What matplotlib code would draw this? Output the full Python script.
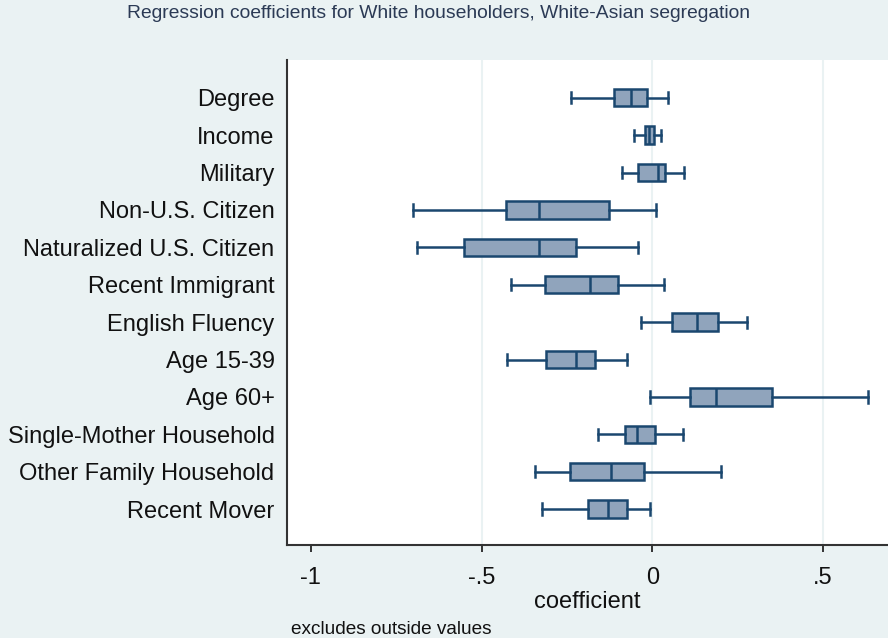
import matplotlib
matplotlib.use("Agg")
import matplotlib.pyplot as plt

plt.rcParams['font.family'] = ['Liberation Sans', 'DejaVu Sans']

categories = [
    "Degree", "Income", "Military", "Non-U.S. Citizen",
    "Naturalized U.S. Citizen", "Recent Immigrant", "English Fluency",
    "Age 15-39", "Age 60+", "Single-Mother Household",
    "Other Family Household", "Recent Mover",
]
whisker_low = [-0.239, -0.054, -0.089, -0.702, -0.688, -0.413, -0.032,
               -0.426, -0.006, -0.158, -0.344, -0.323]
q1 = [-0.111, -0.021, -0.042, -0.430, -0.552, -0.313, 0.058,
      -0.311, 0.110, -0.079, -0.242, -0.188]
median = [-0.062, -0.009, 0.017, -0.331, -0.332, -0.183, 0.132,
          -0.223, 0.187, -0.046, -0.121, -0.130]
q3 = [-0.017, 0.006, 0.037, -0.126, -0.224, -0.100, 0.191,
      -0.167, 0.349, 0.009, -0.024, -0.074]
whisker_high = [0.047, 0.026, 0.092, 0.010, -0.043, 0.033, 0.278,
                -0.074, 0.630, 0.090, 0.201, -0.008]

x_ticks = [-1, -0.5, 0, 0.5]
x_tick_labels = ["-1", "-.5", "0", ".5"]

bg = "#EAF2F3"
edge = "#1A476F"
fill = "#90A4BC"

fig = plt.figure(figsize=(8.88, 6.38), dpi=100, facecolor=bg)
ax = fig.add_axes([287 / 888, 1 - 545 / 638, 1 - 287 / 888, (545 - 60) / 638])
ax.set_facecolor("white")

stats = []
for i, name in enumerate(categories):
    stats.append(dict(label=name, whislo=whisker_low[i], q1=q1[i],
                      med=median[i], q3=q3[i], whishi=whisker_high[i],
                      fliers=[]))

positions = list(range(len(categories)))
lw = 1.8
ax.bxp(stats, positions=positions, orientation="horizontal", widths=0.465,
       patch_artist=True, showfliers=False, capwidths=0.3,
       boxprops=dict(facecolor=fill, edgecolor=edge, linewidth=lw),
       medianprops=dict(color=edge, linewidth=lw),
       whiskerprops=dict(color=edge, linewidth=lw),
       capprops=dict(color=edge, linewidth=lw))

ax.set_ylim(11.96, -1.01)
ax.set_xlim(-1.07, 0.69)

for gx in [-0.5, 0, 0.5]:
    ax.axvline(gx, color=bg, linewidth=1.5, zorder=0)

ax.set_xticks(x_ticks)
ax.set_xticklabels(x_tick_labels)
ax.set_yticks(positions)
ax.set_yticklabels(categories)

ax.tick_params(axis="x", direction="out", length=5, width=1.4, colors="#333333",
               labelsize=17, labelcolor="#111111", pad=11)
ax.tick_params(axis="y", length=0, labelsize=17, labelcolor="#111111", pad=9)

for side in ["top", "right"]:
    ax.spines[side].set_visible(False)
for side in ["left", "bottom"]:
    ax.spines[side].set_color("#333333")
    ax.spines[side].set_linewidth(1.5)

ax.set_xlabel("coefficient", fontsize=17, color="#111111", labelpad=1)

fig.text(0.494, 1 - 13 / 638, "Regression coefficients for White householders, White-Asian segregation",
         ha="center", va="center", fontsize=13.9, color="#2B3A55")
fig.text(291 / 888, 1 - 629 / 638, "excludes outside values",
         ha="left", va="center", fontsize=13.7, color="#111111")

fig.savefig("out.png", dpi=100, facecolor=bg)
